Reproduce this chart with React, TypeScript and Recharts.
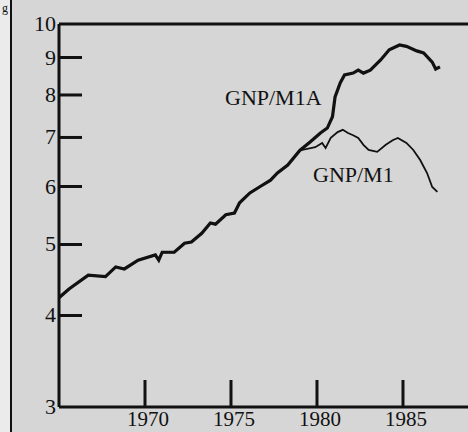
import { LineChart, Line, XAxis, YAxis, ReferenceLine } from 'recharts';

// shared path (both ratios coincide until 1979)
const sharedYears = [1965.0, 1965.6, 1966.7, 1967.7, 1968.3, 1968.8, 1969.6, 1970.6, 1970.8, 1971.0, 1971.7, 1972.3, 1972.7, 1973.3, 1973.8, 1974.1, 1974.7, 1975.2, 1975.5, 1976.1, 1976.7, 1977.3, 1977.7, 1978.3, 1979.0];
const sharedValues = [4.23, 4.35, 4.54, 4.52, 4.66, 4.63, 4.76, 4.84, 4.76, 4.88, 4.88, 5.02, 5.04, 5.18, 5.35, 5.33, 5.49, 5.52, 5.70, 5.88, 6.0, 6.12, 6.26, 6.42, 6.72];

const m1aYears = [1979.6, 1980.2, 1980.6, 1980.9, 1981.05, 1981.35, 1981.6, 1982.1, 1982.4, 1982.7, 1983.1, 1983.7, 1984.2, 1984.8, 1985.2, 1985.8, 1986.2, 1986.7, 1986.9, 1987.15];
const m1aValues = [6.9, 7.1, 7.21, 7.47, 7.95, 8.31, 8.52, 8.57, 8.65, 8.57, 8.65, 8.93, 9.22, 9.36, 9.32, 9.19, 9.13, 8.87, 8.68, 8.74];

const m1Years = [1979.9, 1980.3, 1980.5, 1980.8, 1981.2, 1981.5, 1981.8, 1982.1, 1982.4, 1982.7, 1983.0, 1983.5, 1984.0, 1984.4, 1984.7, 1985.2, 1985.6, 1986.0, 1986.4, 1986.7, 1987.0];
const m1Values = [6.79, 6.88, 6.77, 6.99, 7.12, 7.17, 7.1, 7.05, 6.99, 6.84, 6.73, 6.69, 6.84, 6.94, 6.99, 6.88, 6.73, 6.52, 6.26, 5.99, 5.9];

const yTicks = [3, 4, 5, 6, 7, 8, 9, 10];
const xTicks = [1970, 1975, 1980, 1985];

const toPoints = (years: number[], values: number[]) => years.map((year, i) => ({ year, v: values[i] }));
const shared = toPoints(sharedYears, sharedValues);
const m1aData = [...shared, ...toPoints(m1aYears, m1aValues)];
const m1Data = [...shared, ...toPoints(m1Years, m1Values)];

const FONT = '"Liberation Serif", "DejaVu Serif", serif';
const INK = '#111';

const YTick = (props: any) => {
  const { x, y, payload } = props;
  return (
    <g>
      {payload.value !== 3 && payload.value !== 10 && (
        <line x1={x} x2={x + 23} y1={y} y2={y} stroke={INK} strokeWidth={3} />
      )}
      <text x={x - 3} y={y + 7} textAnchor="end" fontSize={22} fontFamily={FONT} fill={INK}>
        {payload.value}
      </text>
    </g>
  );
};

const XTick = (props: any) => {
  const { x, y, payload } = props;
  return (
    <g>
      <line x1={x} x2={x} y1={y} y2={y - 27} stroke={INK} strokeWidth={3} />
      <text x={x + 3} y={y + 19} textAnchor="middle" fontSize={21} fontFamily={FONT} fill={INK}>
        {payload.value}
      </text>
    </g>
  );
};

export default function App() {
  return (
    <div style={{ position: 'absolute', left: 0, top: 0, width: 468, height: 432, background: '#d6d6d6', overflow: 'hidden' }}>
      <div style={{ position: 'absolute', left: 0, top: 0, width: 11, height: 432, background: '#ebebeb' }} />
      <LineChart width={468} height={432} data={m1aData} margin={{ top: 24, right: 0, left: 0, bottom: 24 }}>
        <XAxis
          dataKey="year"
          type="number"
          domain={[1965, 1988.78]}
          allowDataOverflow
          ticks={xTicks}
          tick={<XTick />}
          tickLine={false}
          tickSize={0}
          tickMargin={0}
          height={1}
          axisLine={{ stroke: INK, strokeWidth: 3 }}
          interval={0}
        />
        <YAxis
          dataKey="v"
          scale="log"
          domain={[3, 10]}
          allowDataOverflow
          ticks={yTicks}
          tick={<YTick />}
          tickLine={false}
          tickSize={0}
          tickMargin={0}
          width={59}
          axisLine={{ stroke: INK, strokeWidth: 3 }}
          interval={0}
        />
        <ReferenceLine y={10} stroke={INK} strokeWidth={3} />
        <Line data={m1Data} dataKey="v" type="linear" stroke={INK} strokeWidth={1.8} dot={false} isAnimationActive={false} />
        <Line data={m1aData} dataKey="v" type="linear" stroke={INK} strokeWidth={3.2} dot={false} isAnimationActive={false} />
      </LineChart>
      <svg width={468} height={432} style={{ position: 'absolute', left: 0, top: 0, pointerEvents: 'none' }}>
        <line x1={11} x2={11} y1={0} y2={432} stroke={INK} strokeWidth={2} />
        <text x={2} y={12} fontSize={12} fontFamily={FONT} fill={INK}>g</text>
        <text x={225} y={105} fontSize={22} fontFamily={FONT} fill={INK}>GNP/M1A</text>
        <text x={313} y={182} fontSize={22} fontFamily={FONT} fill={INK}>GNP/M1</text>
      </svg>
    </div>
  );
}
